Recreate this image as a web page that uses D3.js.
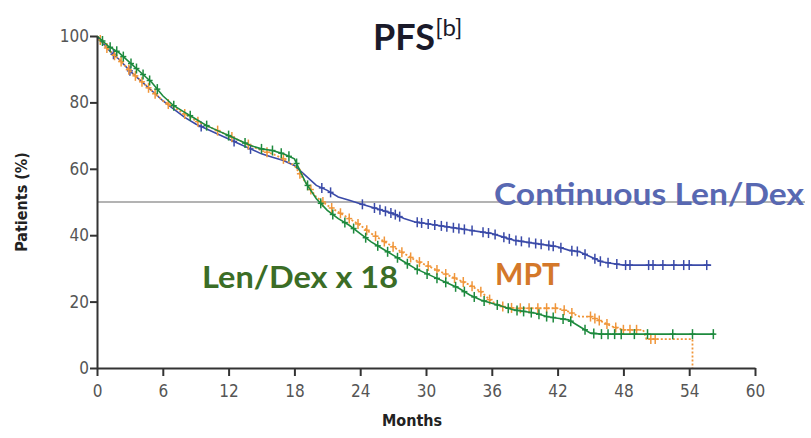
<!DOCTYPE html>
<html>
<head>
<meta charset="utf-8">
<script src="https://cdn.jsdelivr.net/npm/d3@7"></script>
<style>
  html, body { margin: 0; padding: 0; background: #fff; }
  svg { display: block; }
</style>
</head>
<body>
<svg id="chart" width="811" height="438"></svg>
<script>
// Kaplan–Meier progression-free survival, three treatment arms
const xTicks = [0, 6, 12, 18, 24, 30, 36, 42, 48, 54, 60];
const yTicks = [0, 20, 40, 60, 80, 100];

// Continuous Len/Dex
const contMonths = [0,1,2,3,4,5,6,7,8,9,10,11,12,13,14,15,16,17,18,19,20,21,22,23,24,25,26,27,28,29,30,31,32,33,34,35,36,37,38,39,40,41,42,43,44,45,46,47,48,56];
const contPct    = [100,96,93,89.5,86.5,83.5,80.5,78,75.5,73.5,72,70.5,69,67.5,66,64.5,63.5,62.5,61,58,55,53.5,51.5,50.5,49.5,48.5,47.5,46.5,45,44,43.5,43,42.5,42,41.5,41,40.5,39.5,38.5,38,37.5,37,36.5,35.5,35,33.5,32,31.5,31,31];
const contCensor = [1.5,3,9.5,12.5,14,20.5,21.3,24.2,25.3,25.8,26.3,26.8,27.2,27.6,29.2,29.6,30.2,30.8,31.4,31.9,32.5,33,33.5,34.2,35.2,35.7,36.3,37.1,37.6,38.2,38.7,39.4,40,40.5,41.2,41.6,42.3,43.3,43.8,44.5,45.4,45.9,46.6,47.4,48.2,48.6,50.3,50.7,51.6,52.6,53.5,54,55.6];

// Len/Dex x 18
const fixedMonths = [0,1,2,3,4,5,6,7,8,9,10,11,12,13,14,15,16,17,18,19,20,21,22,23,24,25,26,27,28,29,30,31,32,33,34,35,36,37,38,39,40,41,42,43,44,45,46,56.3];
const fixedPct    = [100,97,95,92,89,86,82,79,77,75,73,71.5,70,68.5,67,66,65.5,64.5,63,56,51,47.5,45,43,40.5,38,36,34,32,30,28.5,27,25.5,24,22,20.5,19.5,18.5,17.5,17,16.5,15.5,15,14.5,12.5,10.5,10.2,10.2];
const fixedCensor = [0.5,1.2,1.8,2.4,3.1,3.6,4.2,4.8,5.5,7,8.5,10,12,13.5,15,16,16.8,17.5,18.2,19.2,20.4,21.5,22.6,23.4,24.5,25.6,26.5,27.4,28.3,29.2,30.1,31,31.8,32.7,33.5,34.4,35.3,36.5,37.5,38.3,38.9,39.6,40.3,41,41.6,42.5,43.2,44.5,45.3,46,46.6,47.2,47.8,49,50.2,52.5,54.3,56.2];

// MPT
const mptMonths = [0,1,2,3,4,5,6,7,8,9,10,11,12,13,14,15,16,17,18,19,20,21,22,23,24,25,26,27,28,29,30,31,32,33,34,35,36,37,38,42,43,44,45,46,47,48,49.8,50.1,54.3,54.3];
const mptPct    = [100,96,93,89.5,86.5,83.5,80.5,78.5,76.5,74.5,73,71.5,70,68.5,67,65.5,64.5,63,61,56,51.5,49,47,45,43,40.5,38.5,36.5,34.5,32.5,31,29.5,28,26.5,25,23,20,18.5,18,18,17,15.5,15.5,14,12.5,11.5,11.5,8.7,8.7,0];
const mptCensor = [0.3,0.9,1.6,2.2,2.9,3.5,4.1,4.7,5.3,6.5,8,9.2,11,12.3,13.8,15.5,17,18.5,19.5,20.6,21.4,22.2,23,23.8,24.6,25.4,26.2,27,27.8,28.6,29.4,30.2,31,31.8,32.6,33.4,34.2,35,35.8,37,37.8,38.6,39.4,40.2,41,41.8,42.6,43.3,45,45.4,45.8,46.5,47.3,48,48.6,49.2,50.5,50.9];

const medianLine = 50;

const svg = d3.select("#chart");
const x = d3.scaleLinear().domain([0, 60]).range([97, 755]);
const y = d3.scaleLinear().domain([0, 100]).range([368, 36]);

const arms = [
  { months: contMonths,  pct: contPct,  censor: contCensor,  color: "#3a4aa8", dash: null,  width: 1.6 },
  { months: mptMonths,   pct: mptPct,   censor: mptCensor,   color: "#f0963a", dash: "2,2", width: 1.8 },
  { months: fixedMonths, pct: fixedPct, censor: fixedCensor, color: "#1e8a3e", dash: null,  width: 1.6 }
];

// 50% reference line
svg.append("line")
  .attr("x1", x(0)).attr("x2", 805)
  .attr("y1", y(medianLine)).attr("y2", y(medianLine))
  .attr("stroke", "#9a9a9a").attr("stroke-width", 1.6);

// curve value at time t (linear between estimates), for placing censor marks
function valueAt(arm, t) {
  const i = d3.bisectRight(arm.months, t) - 1;
  if (i < 0) return arm.pct[0];
  if (i >= arm.months.length - 1) return arm.pct[arm.pct.length - 1];
  const t0 = arm.months[i], t1 = arm.months[i + 1];
  const f = t1 > t0 ? (t - t0) / (t1 - t0) : 0;
  return arm.pct[i] + f * (arm.pct[i + 1] - arm.pct[i]);
}

const line = d3.line();

arms.forEach(arm => {
  const pts = arm.months.map((m, i) => [x(m), y(arm.pct[i])]);
  svg.append("path")
    .attr("d", line(pts))
    .attr("fill", "none")
    .attr("stroke", arm.color)
    .attr("stroke-width", arm.width)
    .attr("stroke-dasharray", arm.dash);
  const g = svg.append("g").attr("stroke", arm.color).attr("stroke-width", 1.5);
  arm.censor.forEach(t => {
    const cx = x(t), cy = y(valueAt(arm, t));
    g.append("line").attr("x1", cx).attr("x2", cx).attr("y1", cy - 5).attr("y2", cy + 5);
    g.append("line").attr("x1", cx - 3).attr("x2", cx + 3).attr("y1", cy).attr("y2", cy);
  });
});

// axes
const tickFont = '"Liberation Sans Narrow", "DejaVu Sans Condensed", sans-serif';
const xAxis = svg.append("g")
  .attr("transform", `translate(0,${y(0)})`)
  .call(d3.axisBottom(x).tickValues(xTicks).tickSize(8).tickSizeOuter(0));
const yAxis = svg.append("g")
  .attr("transform", `translate(${x(0)},0)`)
  .call(d3.axisLeft(y).tickValues(yTicks).tickSize(7).tickSizeOuter(0));
[xAxis, yAxis].forEach(a => {
  a.select(".domain").attr("stroke", "#333").attr("stroke-width", 2);
  a.selectAll(".tick line").attr("stroke", "#333").attr("stroke-width", 2);
  a.selectAll(".tick text")
    .attr("fill", "#555")
    .style("font-family", tickFont)
    .style("font-size", "17px");
});
xAxis.selectAll(".tick text").attr("dy", "1.05em");
yAxis.selectAll(".tick text").attr("x", -8);

// axis titles
svg.append("text")
  .attr("x", 412).attr("y", 426)
  .attr("text-anchor", "middle")
  .style("font-family", tickFont).style("font-weight", "bold").style("font-size", "16px")
  .attr("fill", "#222")
  .text("Months");
svg.append("text")
  .attr("transform", "translate(27,202) rotate(-90)")
  .attr("text-anchor", "middle")
  .style("font-family", tickFont).style("font-weight", "bold").style("font-size", "16px")
  .attr("fill", "#222")
  .text("Patients (%)");

// title
const title = svg.append("text")
  .attr("x", 373).attr("y", 50)
  .style("font-family", "Lato, 'Open Sans', sans-serif")
  .attr("fill", "#1a1a2a");
title.append("tspan").style("font-weight", "bold").style("font-size", "36px").text("PFS");
title.append("tspan").attr("dy", -14).style("font-size", "24px").text("[b]");

// arm labels
const labelFont = "Lato, 'Open Sans', sans-serif";
const labels = [
  { text: "Continuous Len/Dex", x: 494, y: 205, len: 310, color: "#5868b2" },
  { text: "Len/Dex x 18",       x: 202, y: 288, len: 196, color: "#3b6d26" },
  { text: "MPT",                x: 495, y: 285, len: 65,  color: "#d4782a" }
];
labels.forEach(l => {
  svg.append("text")
    .attr("x", l.x).attr("y", l.y)
    .attr("textLength", l.len).attr("lengthAdjust", "spacingAndGlyphs")
    .style("font-family", labelFont).style("font-weight", "bold").style("font-size", "30px")
    .attr("fill", l.color)
    .text(l.text);
});
</script>
</body>
</html>
